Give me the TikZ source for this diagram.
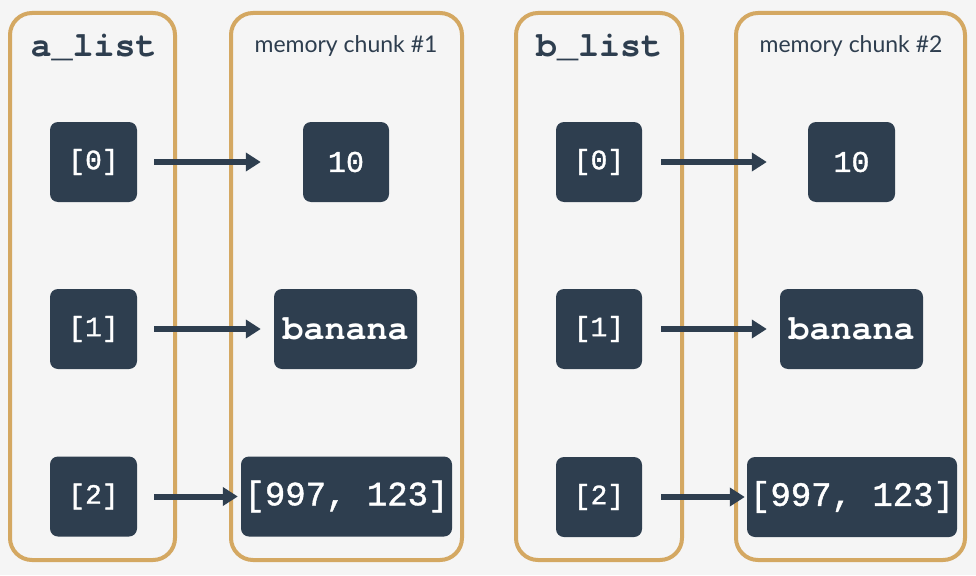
\documentclass[tikz,border=0pt]{standalone}
\usepackage{fontspec}
\setmonofont{Liberation Mono}[FakeBold=1.2]
\newfontfamily\courierfont{TeX Gyre Cursor}
\newfontfamily\labelsans{Lato}
\usetikzlibrary{arrows.meta}
\definecolor{bgc}{HTML}{F5F5F5}
\definecolor{gold}{HTML}{D4A862}
\definecolor{navy}{HTML}{2E3E4F}
\tikzset{
  container/.style={draw=gold, line width=4pt, rounded corners=22pt, inner sep=0pt},
  cell/.style={fill=navy, rounded corners=8pt, inner sep=0pt, minimum height=80pt, text=white, font=\ttfamily\fontsize{28}{28}\selectfont},
  title/.style={anchor=base, text=navy, inner sep=0pt, font=\courierfont\bfseries\fontsize{35}{35}\selectfont},
  chunk/.style={anchor=base, text=navy, inner sep=0pt, font=\labelsans\fontsize{23}{23}\selectfont},
  arr/.style={draw=navy, line width=6pt, -{Triangle[length=15pt,width=18pt]}},
  wordcell/.style={cell, font=\courierfont\bfseries\fontsize{35}{35}\selectfont},
}
\begin{document}
\begin{tikzpicture}[x=1pt,y=-1pt]
\fill[bgc] (0,0) rectangle (976,575);
\useasboundingbox (0,0) rectangle (976,575);
% containers
\node[container, minimum width=165pt, minimum height=547pt] (L1) at (92.5,286.5) {};
\node[container, minimum width=231pt, minimum height=547pt] (M1) at (346.5,286.5) {};
\node[container, minimum width=166pt, minimum height=547pt] (L2) at (599,286.5) {};
\node[container, minimum width=229pt, minimum height=547pt] (M2) at (850.5,286.5) {};
% titles
\node[title] (t1) at (93.5,57) {a\_list};
\node[chunk] (c1) at (346,53) {memory chunk \#1};
\node[title] (t2) at (599,57) {b\_list};
\node[chunk] (c2) at (851,53) {memory chunk \#2};
% left cells
\node[cell, minimum width=87pt] (a0) at (93.5,162) {[0]};
\node[cell, minimum width=87pt] (a1) at (93.5,329) {[1]};
\node[cell, minimum width=87pt] (a2) at (93.5,496.5) {[2]};
\node[cell, minimum width=86pt, font=\ttfamily\fontsize{30}{30}\selectfont] (v0) at (346,162) {10};
\node[wordcell, minimum width=143pt] (v1) at (345.5,329) {banana};
\node[cell, minimum width=211pt, font=\ttfamily\fontsize{34}{34}\selectfont] (v2) at (346.5,496.5) {[997, 123]};
% right cells
\node[cell, minimum width=86pt] (b0) at (599,162) {[0]};
\node[cell, minimum width=86pt] (b1) at (599,329) {[1]};
\node[cell, minimum width=86pt] (b2) at (599,497) {[2]};
\node[cell, minimum width=87pt, font=\ttfamily\fontsize{30}{30}\selectfont] (w0) at (851.5,162) {10};
\node[wordcell, minimum width=143pt] (w1) at (851.5,329) {banana};
\node[cell, minimum width=210pt, font=\ttfamily\fontsize{34}{34}\selectfont] (w2) at (852,497) {[997, 123]};
% arrows
\draw[arr, shorten <=17pt, shorten >=42pt] (a0.east) -- (v0.west);
\draw[arr, shorten <=17pt, shorten >=13pt] (a1.east) -- (v1.west);
\draw[arr, shorten <=17pt, shorten >=3pt] (a2.east) -- (v2.west);
\draw[arr, shorten <=19pt, shorten >=41pt] (b0.east) -- (w0.west);
\draw[arr, shorten <=19pt, shorten >=13pt] (b1.east) -- (w1.west);
\draw[arr, shorten <=19pt, shorten >=2pt] (b2.east) -- (w2.west);
\end{tikzpicture}
\end{document}
